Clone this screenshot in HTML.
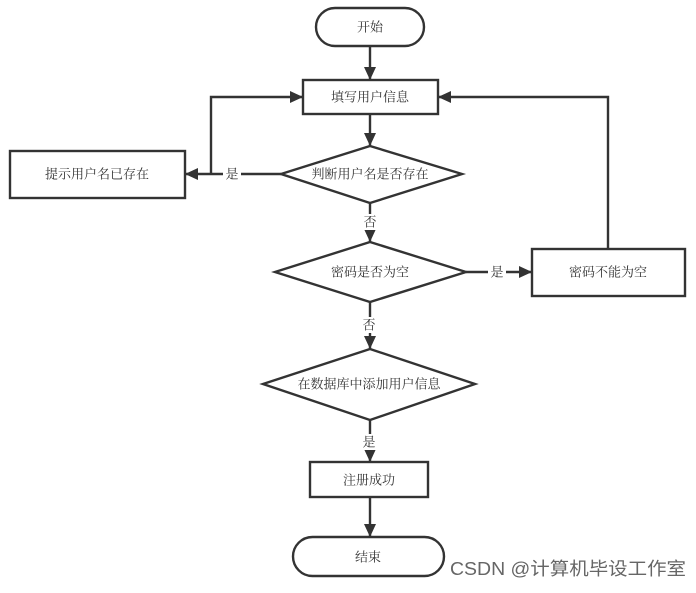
<!DOCTYPE html>
<html><head><meta charset="utf-8"><style>
html,body{margin:0;padding:0;background:#fff;}
svg text{font-family:"Liberation Serif","Noto Serif CJK SC",serif;fill:#333;}
</style></head><body>
<svg width="696" height="588" viewBox="0 0 696 588" xmlns="http://www.w3.org/2000/svg">
<defs><marker id="a" markerWidth="14" markerHeight="14" refX="13" refY="6" orient="auto" markerUnits="userSpaceOnUse"><path d="M0,0 L13,6 L0,12 z" fill="#333"/></marker></defs>
<g stroke="#333" stroke-width="2.4" fill="none">
<rect x="316" y="8" width="108" height="38" rx="19"/>
<rect x="303" y="80" width="135" height="34"/>
<polygon points="370,146 462,174 370,203 281,174"/>
<rect x="10" y="151" width="175" height="47"/>
<polygon points="370,242 466,272 370,302 275,272"/>
<rect x="532" y="249" width="153" height="47"/>
<polygon points="370,349 475,384 370,420 263,384"/>
<rect x="310" y="462" width="118" height="35"/>
<rect x="293" y="537" width="151" height="39" rx="19.5"/>
<line x1="370" y1="46" x2="370" y2="80" marker-end="url(#a)"/>
<line x1="370" y1="114" x2="370" y2="146" marker-end="url(#a)"/>
<line x1="281" y1="174" x2="185" y2="174" marker-end="url(#a)"/>
<polyline points="211,174 211,97 303,97" marker-end="url(#a)"/>
<line x1="370" y1="203" x2="370" y2="242" marker-end="url(#a)"/>
<line x1="466" y1="272" x2="532" y2="272" marker-end="url(#a)"/>
<polyline points="608,249 608,97 438,97" marker-end="url(#a)"/>
<line x1="370" y1="302" x2="370" y2="349" marker-end="url(#a)"/>
<line x1="370" y1="420" x2="370" y2="462" marker-end="url(#a)"/>
<line x1="370" y1="497" x2="370" y2="537" marker-end="url(#a)"/>
</g>
<g font-size="13" text-anchor="middle" dominant-baseline="central">
<text x="370" y="27">开始</text>
<text x="370" y="97">填写用户信息</text>
<text x="370" y="174">判断用户名是否存在</text>
<text x="97" y="174">提示用户名已存在</text>
<text x="370" y="272">密码是否为空</text>
<text x="608" y="272">密码不能为空</text>
<text x="369" y="384">在数据库中添加用户信息</text>
<text x="369" y="480">注册成功</text>
<text x="368" y="557">结束</text>
<rect x="223" y="166" width="18" height="16" fill="#fff"/><text x="232" y="174">是</text>
<rect x="361" y="214" width="18" height="16" fill="#fff"/><text x="370" y="222">否</text>
<rect x="488" y="264" width="18" height="16" fill="#fff"/><text x="497" y="272">是</text>
<rect x="361" y="317" width="18" height="16" fill="#fff"/><text x="369" y="325">否</text>
<rect x="361" y="434" width="18" height="16" fill="#fff"/><text x="369" y="442">是</text>
</g>
<text x="450" y="575" font-size="18" textLength="236" lengthAdjust="spacingAndGlyphs" style="font-family:'Liberation Sans','Noto Sans CJK SC',sans-serif;fill:#666">CSDN @计算机毕设工作室</text>
</svg>
</body></html>
